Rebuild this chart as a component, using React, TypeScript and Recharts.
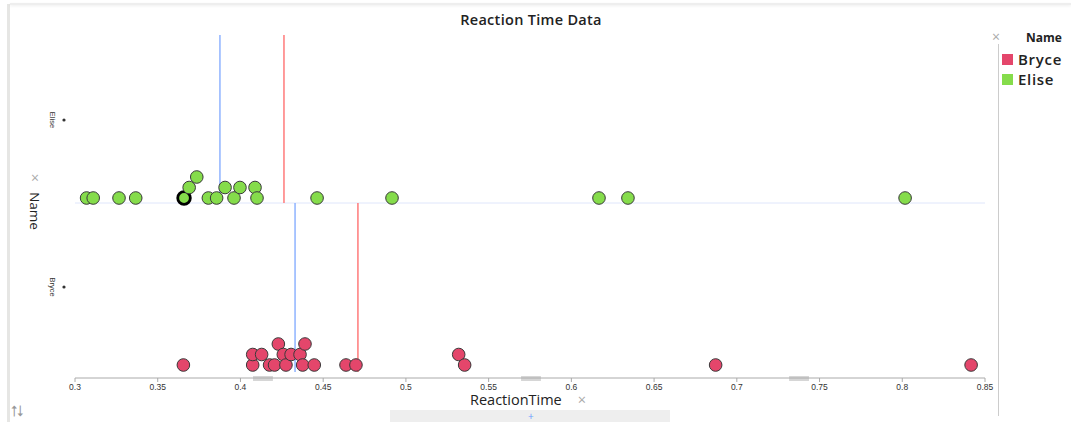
import React from "react";
import {
  ScatterChart,
  Scatter,
  XAxis,
  YAxis,
  ReferenceLine,
  ReferenceArea,
  Cell,
} from "recharts";

const NAMES = ["Bryce", "Elise"];
const COLORS = ["#e4466b", "#85dc4b"];

// reaction times, with their stack level in the pile
const BRYCE_TIMES = [
  0.3655, 0.4074, 0.4074, 0.4128, 0.4176, 0.4206, 0.4229, 0.4259, 0.4275, 0.4306,
  0.436, 0.4376, 0.439, 0.4446, 0.4638, 0.4698, 0.5319, 0.5355, 0.6872, 0.8416,
];
const BRYCE_STACK = [0, 0, 1, 1, 0, 0, 2, 1, 0, 1, 1, 0, 2, 0, 0, 0, 1, 0, 0, 0];

const ELISE_TIMES = [
  0.307, 0.311, 0.3266, 0.3367, 0.3659, 0.369, 0.3736, 0.3806, 0.3856, 0.3907,
  0.3961, 0.3997, 0.4088, 0.41, 0.4463, 0.4916, 0.6167, 0.6342, 0.8017,
];
const ELISE_STACK = [0, 0, 0, 0, 0, 1, 2, 0, 0, 1, 0, 1, 1, 0, 0, 0, 0, 0, 0];
const ELISE_SELECTED = 4;

const MEDIANS = [0.433, 0.3876]; // Bryce, Elise
const MEANS = [0.471, 0.4263];

const X_TICKS = [0.3, 0.35, 0.4, 0.45, 0.5, 0.55, 0.6, 0.65, 0.7, 0.75, 0.8, 0.85];
const HANDLES = [0.4136, 0.5756, 0.7376];

// vertical layout of the two bands (y axis is in pixels from the bottom)
const BAND_SPLIT = 175;
const BAND_TOP = 343;
const BASES = [13, 180];
const STEP = 10.5;
const LABEL_Y = [91, 258];

const FONT = "'Open Sans', Lato, sans-serif";

const toPoints = (times: number[], stack: number[], band: number) =>
  times.map((t, i) => ({ t, y: BASES[band] + stack[i] * STEP }));

const bryce = toPoints(BRYCE_TIMES, BRYCE_STACK, 0);
const elise = toPoints(ELISE_TIMES, ELISE_STACK, 1);

const Dot = (props: any) => {
  const { cx, cy, fill, stroke, strokeWidth } = props;
  return <circle cx={cx} cy={cy} r={6.3} fill={fill} stroke={stroke} strokeWidth={strokeWidth} />;
};

const YTick = (props: any) => {
  const { y, payload } = props;
  const name = payload.value === LABEL_Y[0] ? NAMES[0] : NAMES[1];
  return (
    <g>
      <text
        x={52}
        y={y}
        transform={`rotate(90 52 ${y})`}
        textAnchor="middle"
        dominantBaseline="middle"
        fontSize={7.5}
        fill="#333"
        fontFamily="Arial, sans-serif"
      >
        {name}
      </text>
      <circle cx={64} cy={y} r={1.6} fill="#333" />
    </g>
  );
};

const LegendBox = () => (
  <div style={{ position: "absolute", left: 992, top: 29, width: 79, fontFamily: FONT }}>
    <div style={{ position: "relative", height: 20 }}>
      <span style={{ position: "absolute", left: 0, top: 0, color: "#aaa", fontSize: 14, lineHeight: "16px" }}>×</span>
      <span
        style={{
          position: "absolute",
          left: 34,
          top: 1,
          fontWeight: 700,
          fontSize: 12,
          lineHeight: "16px",
          color: "#222",
        }}
      >
        Name
      </span>
    </div>
    {NAMES.map((n, i) => (
      <div key={n} style={{ display: "flex", alignItems: "center", height: 20, marginLeft: 10 }}>
        <span style={{ width: 11, height: 11, background: COLORS[i], marginRight: 5 }} />
        <span style={{ fontSize: 15, fontWeight: 600, letterSpacing: 0.7, color: "#222", lineHeight: "18px" }}>
          {n}
        </span>
      </div>
    ))}
  </div>
);

export default function App() {
  return (
    <div style={{ position: "relative", width: 1071, height: 422, background: "#fff", overflow: "hidden" }}>
      <style>{"body{margin:0}"}</style>
      {/* frame */}
      <div style={{ position: "absolute", left: 7, top: 4, width: 3, height: 418, background: "#e6e6e4" }} />
      <div
        style={{
          position: "absolute",
          left: 10,
          top: 3,
          width: 1061,
          height: 2,
          background: "#eee",
          boxShadow: "0 1px 3px rgba(0,0,0,0.08)",
        }}
      />
      <div style={{ position: "absolute", left: 998, top: 44, width: 1, height: 372, background: "#ccc" }} />
      <span
        style={{
          position: "absolute",
          left: 531,
          top: 12,
          transform: "translateX(-50%)",
          whiteSpace: "nowrap",
          fontFamily: FONT,
          fontSize: 14.5,
          lineHeight: "16px",
          fontWeight: 600,
          letterSpacing: 0.3,
          color: "#222",
        }}
      >
        Reaction Time Data
      </span>
      <div
        style={{
          position: "absolute",
          left: 31,
          top: 171,
          color: "#aaa",
          fontSize: 14,
          lineHeight: "14px",
          fontFamily: FONT,
        }}
      >
        ×
      </div>
      <div
        style={{
          position: "absolute",
          left: 35,
          top: 211,
          transform: "translate(-50%, -50%) rotate(90deg)",
          fontFamily: FONT,
          fontSize: 13.5,
          lineHeight: "16px",
          color: "#222",
          whiteSpace: "nowrap",
        }}
      >
        Name
      </div>
      <div
        style={{
          position: "absolute",
          left: 470,
          top: 392,
          fontFamily: FONT,
          fontSize: 14.5,
          lineHeight: "15px",
          color: "#222",
          whiteSpace: "nowrap",
        }}
      >
        ReactionTime<span style={{ color: "#aaa", marginLeft: 16 }}>×</span>
      </div>
      <div style={{ position: "absolute", left: 390, top: 410, width: 280, height: 12, background: "#eee" }}>
        <span
          style={{
            position: "absolute",
            left: 138,
            top: 1,
            color: "#6a9cff",
            fontSize: 10,
            lineHeight: "10px",
            fontFamily: FONT,
          }}
        >
          +
        </span>
      </div>
      <div
        style={{
          position: "absolute",
          left: 11,
          top: 403,
          color: "#999",
          fontSize: 15,
          lineHeight: "15px",
          fontFamily: FONT,
        }}
      >
        ⮁
      </div>

      <ScatterChart
        width={1071}
        height={422}
        margin={{ top: 35, right: 86, bottom: 0, left: 0 }}
        style={{ position: "absolute", left: 0, top: 0 }}
      >
        <XAxis
          type="number"
          dataKey="t"
          domain={[0.3, 0.85]}
          ticks={X_TICKS}
          height={44}
          stroke="#aaa"
          tickSize={4}
          tick={{ fontSize: 8.5, fill: "#333", fontFamily: "Arial, sans-serif" }}
          tickMargin={2}
          allowDataOverflow
        />
        <YAxis
          type="number"
          dataKey="y"
          domain={[0, BAND_TOP]}
          ticks={LABEL_Y}
          width={75}
          axisLine={false}
          tickLine={false}
          tick={<YTick />}
          allowDataOverflow
        />
        {HANDLES.map((h) => (
          <ReferenceArea
            key={h}
            x1={h - 0.006}
            x2={h + 0.006}
            y1={-3}
            y2={2}
            fill="#d6d6d6"
            fillOpacity={1}
            stroke="none"
            ifOverflow="visible"
          />
        ))}
        <ReferenceLine y={BAND_SPLIT} stroke="#dfe6fb" strokeWidth={1} />
        {[0, 1].map((band) => {
          const lo = band === 0 ? 6 : BAND_SPLIT;
          const hi = band === 0 ? BAND_SPLIT : BAND_TOP;
          return (
            <React.Fragment key={band}>
              <ReferenceLine
                segment={[
                  { x: MEDIANS[band], y: lo },
                  { x: MEDIANS[band], y: hi },
                ]}
                stroke="#8fb3ff"
                strokeWidth={1.5}
              />
              <ReferenceLine
                segment={[
                  { x: MEANS[band], y: lo },
                  { x: MEANS[band], y: hi },
                ]}
                stroke="#ff7a7a"
                strokeWidth={1.5}
              />
            </React.Fragment>
          );
        })}
        <Scatter
          name={NAMES[0]}
          data={bryce}
          fill={COLORS[0]}
          stroke="#3a3a3a"
          strokeWidth={1}
          shape={<Dot />}
          isAnimationActive={false}
        />
        <Scatter
          name={NAMES[1]}
          data={elise}
          fill={COLORS[1]}
          shape={<Dot />}
          isAnimationActive={false}
        >
          {elise.map((_, i) => (
            <Cell
              key={i}
              fill={COLORS[1]}
              stroke={i === ELISE_SELECTED ? "#000" : "#3a3a3a"}
              strokeWidth={i === ELISE_SELECTED ? 2.8 : 1}
            />
          ))}
        </Scatter>
      </ScatterChart>
      <LegendBox />
    </div>
  );
}
